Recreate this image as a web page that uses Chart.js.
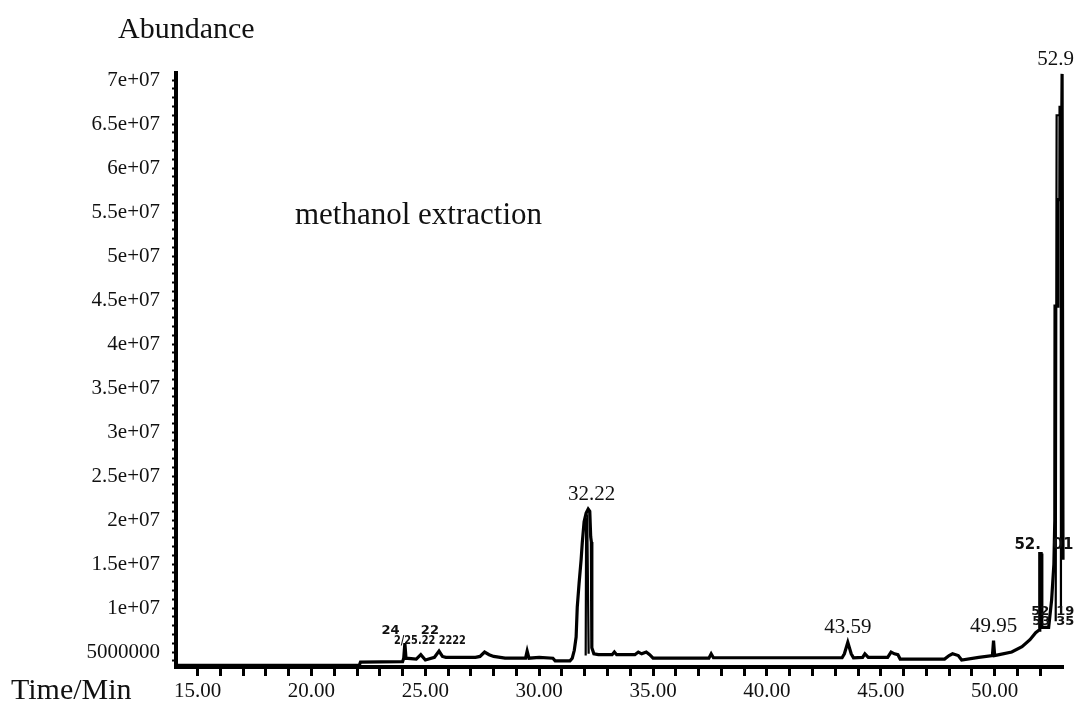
<!DOCTYPE html>
<html>
<head>
<meta charset="utf-8">
<style>
  html, body { margin: 0; padding: 0; background: #fff; }
  #wrap { width: 1079px; height: 709px; position: relative; }
</style>
<script src="https://cdn.jsdelivr.net/npm/chart.js@4.4.1/dist/chart.umd.min.js"></script>
</head>
<body>
<div id="wrap"><canvas id="chromChart"></canvas></div>
<script>
const ctx = document.getElementById('chromChart').getContext('2d');

// Chromatogram trace (retention time in min, abundance)
const times = [
  14.05, 22.1, 22.15, 24.0, 24.05, 24.1, 24.15, 24.6, 24.8, 25.0, 25.4, 25.6, 25.75, 25.9,
  27.2, 27.4, 27.6, 27.8, 28.0, 28.5, 29.4, 29.47, 29.55, 30.0, 30.6, 30.7, 31.35, 31.45,
  31.54, 31.62, 31.67, 31.75, 31.84, 31.89, 31.97, 32.06, 32.15, 32.22, 32.26, 32.29, 32.31,
  32.4, 32.6, 33.2, 33.3, 33.4, 34.2, 34.35, 34.5, 34.7, 34.85, 35.0, 37.45, 37.55, 37.65,
  43.3, 43.4, 43.55, 43.7, 43.8, 44.2, 44.3, 44.45, 45.3, 45.45, 45.6, 45.75, 45.85,
  47.8, 48.0, 48.15, 48.4, 48.55, 49.3, 49.9, 49.95, 50.0, 50.2, 50.75, 51.2, 51.55,
  51.8, 51.95, 51.98, 52.04, 52.07, 52.37, 52.5, 52.6, 52.64, 52.65, 52.77, 52.78, 52.86,
  52.87, 52.95, 52.96, 52.99, 53.0
];
const abundance = [
  3.5e6, 3.5e6, 3.85e6, 3.9e6, 4.3e6, 6.0e6, 4.3e6, 4.2e6, 4.7e6, 4.1e6, 4.4e6, 5.1e6, 4.5e6, 4.4e6,
  4.4e6, 4.5e6, 5.0e6, 4.7e6, 4.5e6, 4.3e6, 4.3e6, 5.1e6, 4.3e6, 4.4e6, 4.3e6, 4.0e6, 4.0e6, 4.3e6,
  5.2e6, 6.7e6, 1.01e7, 1.28e7, 1.55e7, 1.74e7, 1.98e7, 2.08e7, 2.125e7, 2.1e7, 1.81e7, 1.75e7, 5.5e6,
  4.8e6, 4.7e6, 4.7e6, 5.0e6, 4.7e6, 4.7e6, 5.0e6, 4.8e6, 5.0e6, 4.7e6, 4.3e6, 4.3e6, 4.8e6, 4.35e6,
  4.35e6, 4.8e6, 6.1e6, 4.8e6, 4.35e6, 4.4e6, 4.8e6, 4.4e6, 4.4e6, 5.0e6, 4.8e6, 4.7e6, 4.2e6,
  4.2e6, 4.6e6, 4.8e6, 4.6e6, 4.1e6, 4.4e6, 4.6e6, 6.3e6, 4.6e6, 4.7e6, 5.0e6, 5.6e6, 6.4e6,
  7.2e6, 7.5e6, 1.62e7, 1.62e7, 7.8e6, 7.8e6, 1.09e7, 1.5e7, 2.0e7, 4.43e7, 4.43e7, 5.64e7, 5.64e7,
  6.69e7, 6.69e7, 7.07e7, 7.07e7, 1.55e7
];

// second (overlaid) trace, only visible inside the big peaks
const innerTimes = [32.04, 32.06, 32.11, 32.17, null, 52.68, 52.72, 52.9, 52.91];
const innerAbundance = [4.6e6, 1.98e7, 2.02e7, 4.8e6, null, 8.5e6, 6.6e7, 6.6e7, 1.0e7];

// axes
const xTickValues = [15, 20, 25, 30, 35, 40, 45, 50];
const xTickLabels = ['15.00', '20.00', '25.00', '30.00', '35.00', '40.00', '45.00', '50.00'];
const yTickValues = [5e6, 1e7, 1.5e7, 2e7, 2.5e7, 3e7, 3.5e7, 4e7, 4.5e7, 5e7, 5.5e7, 6e7, 6.5e7, 7e7];
const yTickLabels = ['5000000', '1e+07', '1.5e+07', '2e+07', '2.5e+07', '3e+07', '3.5e+07',
  '4e+07', '4.5e+07', '5e+07', '5.5e+07', '6e+07', '6.5e+07', '7e+07'];

// peak annotations
const peakLabels = ['32.22', '43.59', '49.95', '52.9'];
const peakLabelTimes = [32.3, 43.55, 49.95, 52.68];
const peakLabelHeights = [2.125e7, 6.1e6, 6.3e6, 7.07e7];

// overlapping integration labels (bold, small)
const clutterLabels = ['24', '22', '2/25.22 2222', '52.', '01', '52', '53', '19', '35'];
const clutterTimes = [23.47, 25.2, 25.2, 51.45, 53.0, 52.0, 52.05, 53.1, 53.1];
const clutterHeights = [7.4e6, 7.4e6, 6.3e6, 1.72e7, 1.72e7, 9.6e6, 8.5e6, 9.6e6, 8.5e6];

const SERIF = "'Liberation Serif', 'DejaVu Serif', serif";
const INK = '#111';

const toPoints = (xs, ys) => xs.map((t, i) => ({ x: t, y: ys[i] }));

const labelPlugin = {
  id: 'chromLabels',
  afterDraw(chart) {
    const c = chart.ctx;
    const xs = chart.scales.x;
    const ys = chart.scales.y;
    c.save();
    c.fillStyle = INK;
    c.textBaseline = 'alphabetic';

    c.textAlign = 'left';
    c.font = '30px ' + SERIF;
    c.fillText('Abundance', 118, 38);
    c.fillText('Time/Min', 11, 699);
    c.font = '31px ' + SERIF;
    c.fillText('methanol extraction', 295, 224);

    c.textAlign = 'center';
    c.font = '21px ' + SERIF;
    peakLabels.forEach((txt, i) => {
      const px = xs.getPixelForValue(peakLabelTimes[i]);
      const py = ys.getPixelForValue(peakLabelHeights[i]) - 9;
      c.fillText(txt, px, py);
    });

    c.textBaseline = 'middle';
    clutterLabels.forEach((txt, i) => {
      const px = xs.getPixelForValue(clutterTimes[i]);
      const py = ys.getPixelForValue(clutterHeights[i]);
      const big = i >= 3 && i <= 4;
      c.font = 'bold ' + (big ? 15 : 13) + 'px "DejaVu Sans", sans-serif';
      if (txt.length > 4) c.fillText(txt, px, py, 72);
      else c.fillText(txt, px, py);
    });
    c.restore();
  }
};

const minorX = [];
for (let m = 15; m <= 52; m++) minorX.push(m);
const minorY = [];
for (let m = 4; m <= 70; m++) minorY.push(m * 1e6);

new Chart(ctx, {
  type: 'line',
  data: {
    datasets: [
      {
        data: toPoints(times, abundance),
        borderColor: '#000',
        borderWidth: 3.2,
        pointRadius: 0,
        tension: 0,
        fill: false,
        clip: false
      },
      {
        data: toPoints(innerTimes, innerAbundance),
        borderColor: '#000',
        borderWidth: 2.2,
        pointRadius: 0,
        tension: 0,
        fill: false,
        spanGaps: false,
        clip: false
      }
    ]
  },
  options: {
    responsive: true,
    maintainAspectRatio: false,
    animation: false,
    layout: { padding: { top: 73, right: 16, left: 0, bottom: 0 } },
    plugins: {
      legend: { display: false },
      tooltip: { enabled: false }
    },
    scales: {
      x: {
        type: 'linear',
        min: 14.05,
        max: 53.0,
        afterFit: (s) => { s.height = 42; },
        afterBuildTicks: (s) => { s.ticks = minorX.map(v => ({ value: v })); },
        ticks: {
          autoSkip: false,
          maxRotation: 0,
          padding: 3,
          color: INK,
          font: { family: SERIF, size: 21 },
          callback: (v) => {
            const i = xTickValues.indexOf(v);
            return i >= 0 ? xTickLabels[i] : '';
          }
        },
        grid: { drawOnChartArea: false, tickLength: 9, tickWidth: 3, tickColor: '#000' },
        border: { color: '#000', width: 4 }
      },
      y: {
        type: 'linear',
        min: 3.3e6,
        max: 7.08e7,
        afterFit: (s) => { s.width = 176; },
        afterBuildTicks: (s) => { s.ticks = minorY.map(v => ({ value: v })); },
        ticks: {
          autoSkip: false,
          padding: 12,
          color: INK,
          font: { family: SERIF, size: 21 },
          callback: (v) => {
            const i = yTickValues.indexOf(v);
            return i >= 0 ? yTickLabels[i] : '';
          }
        },
        grid: { drawOnChartArea: false, tickLength: 4, tickWidth: 2, tickColor: '#000' },
        border: { color: '#000', width: 4 }
      }
    }
  },
  plugins: [labelPlugin]
});
</script>
</body>
</html>
